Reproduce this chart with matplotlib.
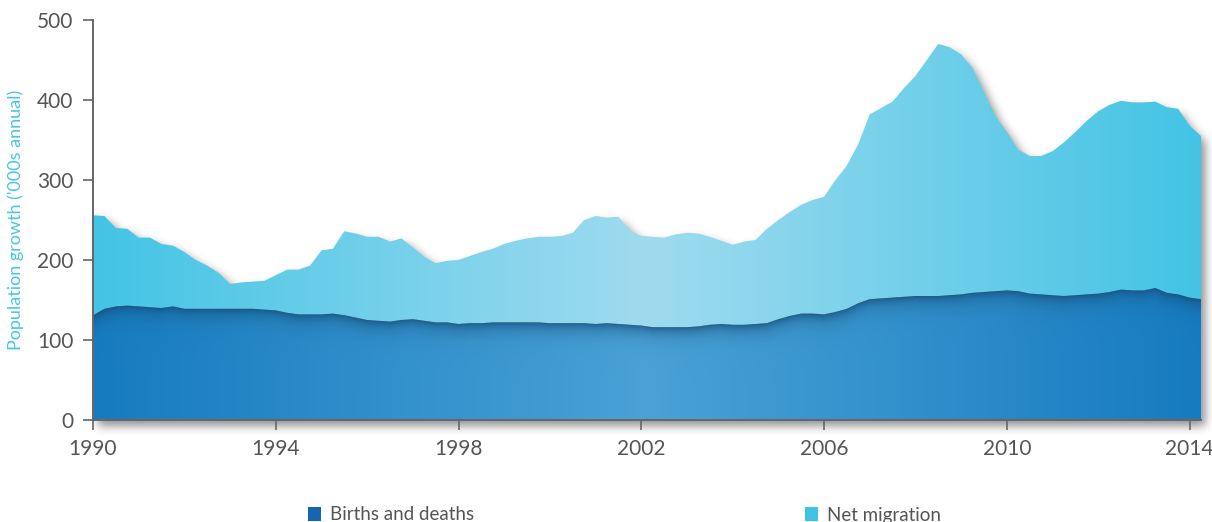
import numpy as np
import matplotlib.pyplot as plt
from matplotlib.patches import Patch
from matplotlib.colors import to_rgb

plt.rcParams['font.family'] = ['Lato', 'DejaVu Sans']

# quarterly series, 1990 Q1 to 2014 Q2 ('000s, annualised)
years = 1990 + np.arange(98) * 0.25

births_deaths = [
    131, 139, 142, 143, 142, 141, 140, 142, 139, 139, 139, 139,
    139, 139, 139, 138, 137, 134, 132, 132, 132, 133, 131, 128,
    125, 124, 123, 125, 126, 124, 122, 122, 120, 121, 121, 122,
    122, 122, 122, 122, 121, 121, 121, 121, 120, 121, 120, 119,
    118, 116, 116, 116, 116, 117, 119, 120, 119, 119, 120, 121,
    126, 130, 133, 133, 132, 135, 139, 146, 151, 152, 153, 154,
    155, 155, 155, 156, 157, 159, 160, 161, 162, 161, 158, 157,
    156, 155, 156, 157, 158, 160, 163, 162, 162, 165, 159, 157,
    153, 151,
]

net_migration = [
    125, 116, 98, 96, 86, 87, 80, 76, 71, 61, 54, 45,
    31, 33, 34, 36, 44, 54, 56, 61, 80, 81, 105, 105,
    104, 105, 100, 102, 90, 80, 74, 77, 80, 84, 89, 92,
    98, 102, 105, 107, 108, 109, 113, 129, 135, 132, 134, 118,
    112, 113, 112, 116, 118, 116, 110, 104, 100, 104, 105, 118,
    124, 130, 136, 142, 147, 165, 179, 199, 231, 238, 245, 261,
    275, 295, 315, 310, 300, 281, 250, 219, 198, 177, 172, 173,
    180, 192, 204, 217, 228, 234, 236, 235, 235, 233, 232, 232,
    215, 204,
]

x_ticks = [1990, 1994, 1998, 2002, 2006, 2010, 2014]
y_ticks = [0, 100, 200, 300, 400, 500]
series_names = ['Births and deaths', 'Net migration']


def box_blur(a, r, axis):
    pad = [(0, 0), (0, 0)]
    pad[axis] = (r + 1, r)
    p = np.pad(a, pad, mode='edge')
    c = np.cumsum(p, axis=axis)
    if axis == 0:
        return (c[2 * r + 1:] - c[:-2 * r - 1]) / (2 * r + 1)
    return (c[:, 2 * r + 1:] - c[:, :-2 * r - 1]) / (2 * r + 1)


def mirrored_gradient(xs, x0, x1, edge, centre):
    # colour runs edge -> centre -> edge across the chart
    t = 1 - np.abs((xs - x0) / (x1 - x0) * 2 - 1)
    e, c = np.array(to_rgb(edge)), np.array(to_rgb(centre))
    return e[None, :] * (1 - t[:, None]) + c[None, :] * t[:, None]


bd = np.array(births_deaths, dtype=float)
total = bd + np.array(net_migration, dtype=float)
x0, x1 = years[0], years[-1]

W, H = 1212, 522
ax_w = 1108
fig = plt.figure(figsize=(W / 100, H / 100), dpi=100)
ax = fig.add_axes([93 / W, 102 / H, ax_w / W, 400 / H])

px_per_year = ax_w / (x1 - x0)
px_per_unit = 400 / 500

# soft drop shadow behind the stacked areas
sx = np.linspace(1989.3, 2015.2, int(25.9 * px_per_year))
sy = np.linspace(-50, 550, int(600 * px_per_unit))
SX, SY = np.meshgrid(sx, sy)
top_at = np.interp(sx, years, total)
mask = ((SY <= top_at[None, :]) & (SY >= 0) &
        (SX >= x0) & (SX <= x1)).astype(float)
mask = np.roll(mask, 5, axis=1)
mask = np.roll(mask, -6, axis=0)
for _ in range(3):
    mask = box_blur(mask, 4, 0)
    mask = box_blur(mask, 4, 1)
shadow = np.zeros(mask.shape + (4,))
shadow[..., :3] = 0.22
shadow[..., 3] = mask * 0.55
sh = ax.imshow(shadow, extent=(sx[0], sx[-1], sy[0], sy[-1]), origin='lower',
               aspect='auto', zorder=1, interpolation='bilinear')
sh.set_clip_on(False)

# stacked areas
low = ax.fill_between(years, 0, bd, facecolor='none', edgecolor='none', zorder=2)
high = ax.fill_between(years, bd, total, facecolor='none', edgecolor='none', zorder=2)

gx = np.linspace(x0, x1, 1200)
gy = np.linspace(0, 500, 400)

top_rgb = mirrored_gradient(gx, x0, x1, '#43c4e5', '#9fdbef')
top_img = ax.imshow(top_rgb[None, :, :], extent=(x0, x1, 0, 500), origin='lower',
                    aspect='auto', zorder=3, interpolation='bilinear')
top_img.set_clip_path(high.get_paths()[0], ax.transData)

low_rgb = mirrored_gradient(gx, x0, x1, '#167bbf', '#4aa2d6')
edge_at = np.interp(gx, years, bd)
depth = (edge_at[None, :] - gy[:, None]) * px_per_unit
w = np.clip(np.exp(-np.clip(depth, 0, None) / 8.0) * 0.75, 0, 1)[..., None]
dark = np.array(to_rgb('#134a74'))
low_img_arr = low_rgb[None, :, :] * (1 - w) + dark[None, None, :] * w
low_img = ax.imshow(low_img_arr, extent=(x0, x1, 0, 500), origin='lower',
                    aspect='auto', zorder=4, interpolation='bilinear')
low_img.set_clip_path(low.get_paths()[0], ax.transData)

ax.set_xlim(x0, x1)
ax.set_ylim(0, 500)

for side in ['top', 'right']:
    ax.spines[side].set_visible(False)
for side in ['left', 'bottom']:
    ax.spines[side].set_color('#666666')
    ax.spines[side].set_linewidth(1.4)
    ax.spines[side].set_zorder(6)

ax.set_xticks(x_ticks)
ax.set_yticks(y_ticks)
ax.tick_params(axis='both', direction='out', length=7, width=1.2,
               color='#666666', labelcolor='#555555', labelsize=15)
ax.tick_params(axis='y', pad=7)
ax.tick_params(axis='x', pad=7)

ax.set_ylabel("Population growth ('000s annual)", color='#48c5e6', fontsize=13)
ax.yaxis.set_label_coords((24 - 93) / ax_w, 0.5)

handles = [Patch(facecolor='#1565b0', edgecolor='none'),
           Patch(facecolor='#40c4e4', edgecolor='none')]
fig.legend(handles, series_names, loc='center left',
           bbox_to_anchor=(308 / W, 7 / H), ncol=2, frameon=False,
           fontsize=13.5, labelcolor='#555555', handlelength=0.7,
           handleheight=0.7, handletextpad=0.5, columnspacing=17.6,
           borderpad=0, borderaxespad=0)

fig.savefig('out.png', dpi=100)
